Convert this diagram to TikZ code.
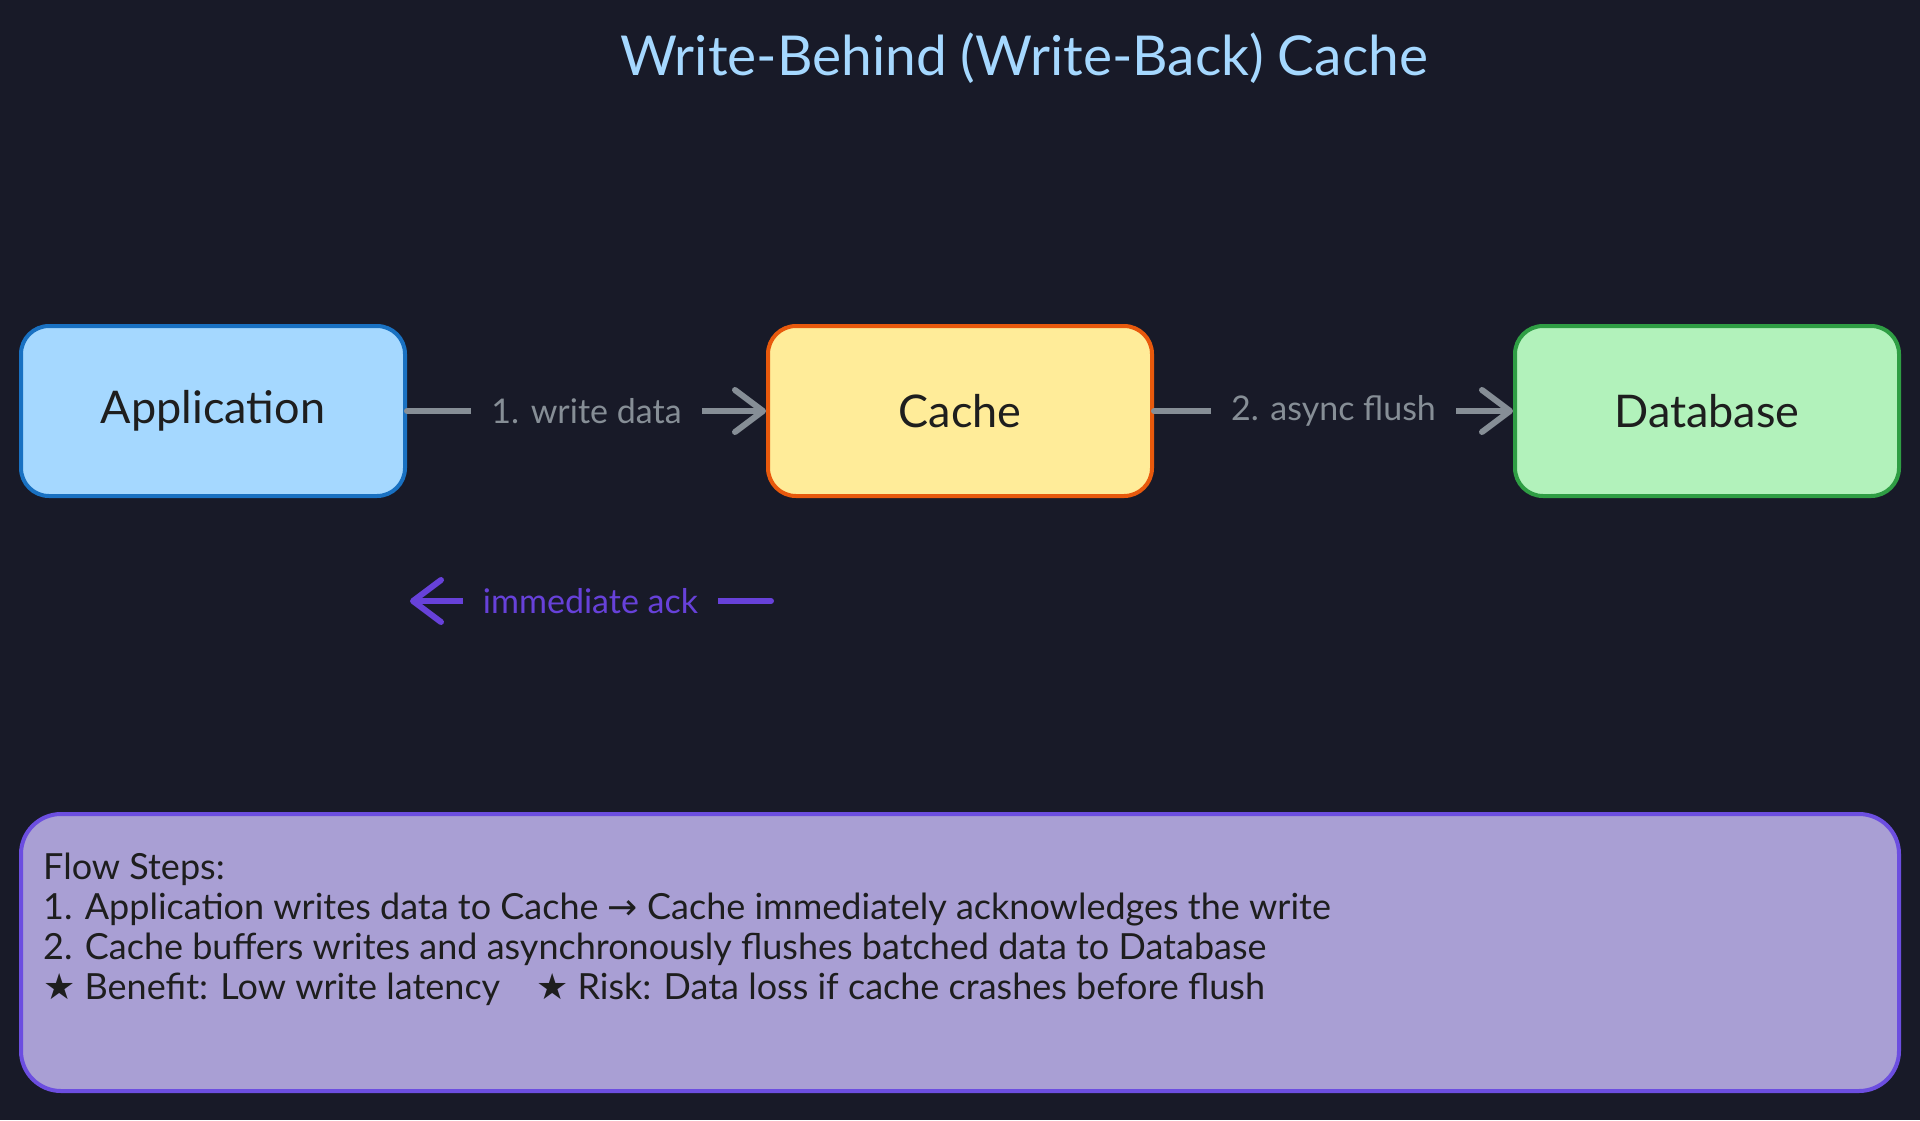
\documentclass[tikz,border=0pt]{standalone}
\usepackage{fontspec}
\setmainfont{Lato}
\newfontfamily\symfont{DejaVu Sans}
\usetikzlibrary{arrows.meta}
\definecolor{bg}{HTML}{181A28}
\definecolor{titlec}{HTML}{A5D8FF}
\definecolor{ink}{HTML}{1E1E1E}
\definecolor{appfill}{HTML}{A5D8FF}
\definecolor{appline}{HTML}{1971C2}
\definecolor{cachefill}{HTML}{FFEC99}
\definecolor{cacheline}{HTML}{E8590C}
\definecolor{dbfill}{HTML}{B2F2BB}
\definecolor{dbline}{HTML}{2F9E44}
\definecolor{flowc}{HTML}{868E96}
\definecolor{ackc}{HTML}{6741D9}
\definecolor{notefill}{HTML}{A99FD4}
\definecolor{noteline}{HTML}{6C4EE0}
\tikzset{
  box/.style={draw, line width=4pt, rounded corners=28pt, minimum width=384pt,
    minimum height=170pt, font=\fontsize{45}{54}\selectfont, text=ink},
  flow/.style={draw=flowc, line width=6pt, line cap=round,
    -{Straight Barb[length=28pt,width=42pt,round]}},
  ackflow/.style={draw=ackc, line width=6pt, line cap=round,
    -{Straight Barb[length=28pt,width=42pt,round]}},
  lbl/.style={fill=bg, inner xsep=20pt, inner ysep=8pt, font=\fontsize{34}{40}\selectfont},
}
\begin{document}
\begin{tikzpicture}[x=1pt,y=-1pt]
\fill[bg] (0,0) rectangle (1920,1120);
\useasboundingbox (0,0) rectangle (1920,1120);

\node[text=titlec, font=\fontsize{55}{66}\selectfont] (title) at (1024,58) {Write-Behind (Write-Back) Cache};

\node[box, fill=appfill, draw=appline] (app) at (213,411) {Application};
\node[box, fill=cachefill, draw=cacheline] (cache) at (960,411) {Cache};
\node[box, fill=dbfill, draw=dbline] (db) at (1707,411) {Database};

\draw[flow] (app.east) -- node[lbl, text=flowc] {1. write data} (cache.west);
\draw[flow] (cache.east) -- node[lbl, text=flowc] {2. async flush} (db.west);

\coordinate (ackS) at (771,601);
\coordinate (ackE) at (410,601);
\draw[ackflow] (ackS) -- node[lbl, text=ackc] {immediate ack} (ackE);

\node[draw=noteline, fill=notefill, line width=4pt, rounded corners=40pt,
  minimum width=1878pt, minimum height=277pt] (notes) at (960,952.5) {};
\node[anchor=north west, inner sep=0pt, align=left, text=ink,
  font=\fontsize{36}{40}\selectfont] (steps) at (43,853)
  {Flow Steps:\\
   1. Application writes data to Cache {\symfont →} Cache immediately acknowledges the write\\
   2. Cache buffers writes and asynchronously flushes batched data to Database\\
   {\symfont ★} Benefit: Low write latency\quad{\symfont ★} Risk: Data loss if cache crashes before flush};
\end{tikzpicture}
\end{document}
